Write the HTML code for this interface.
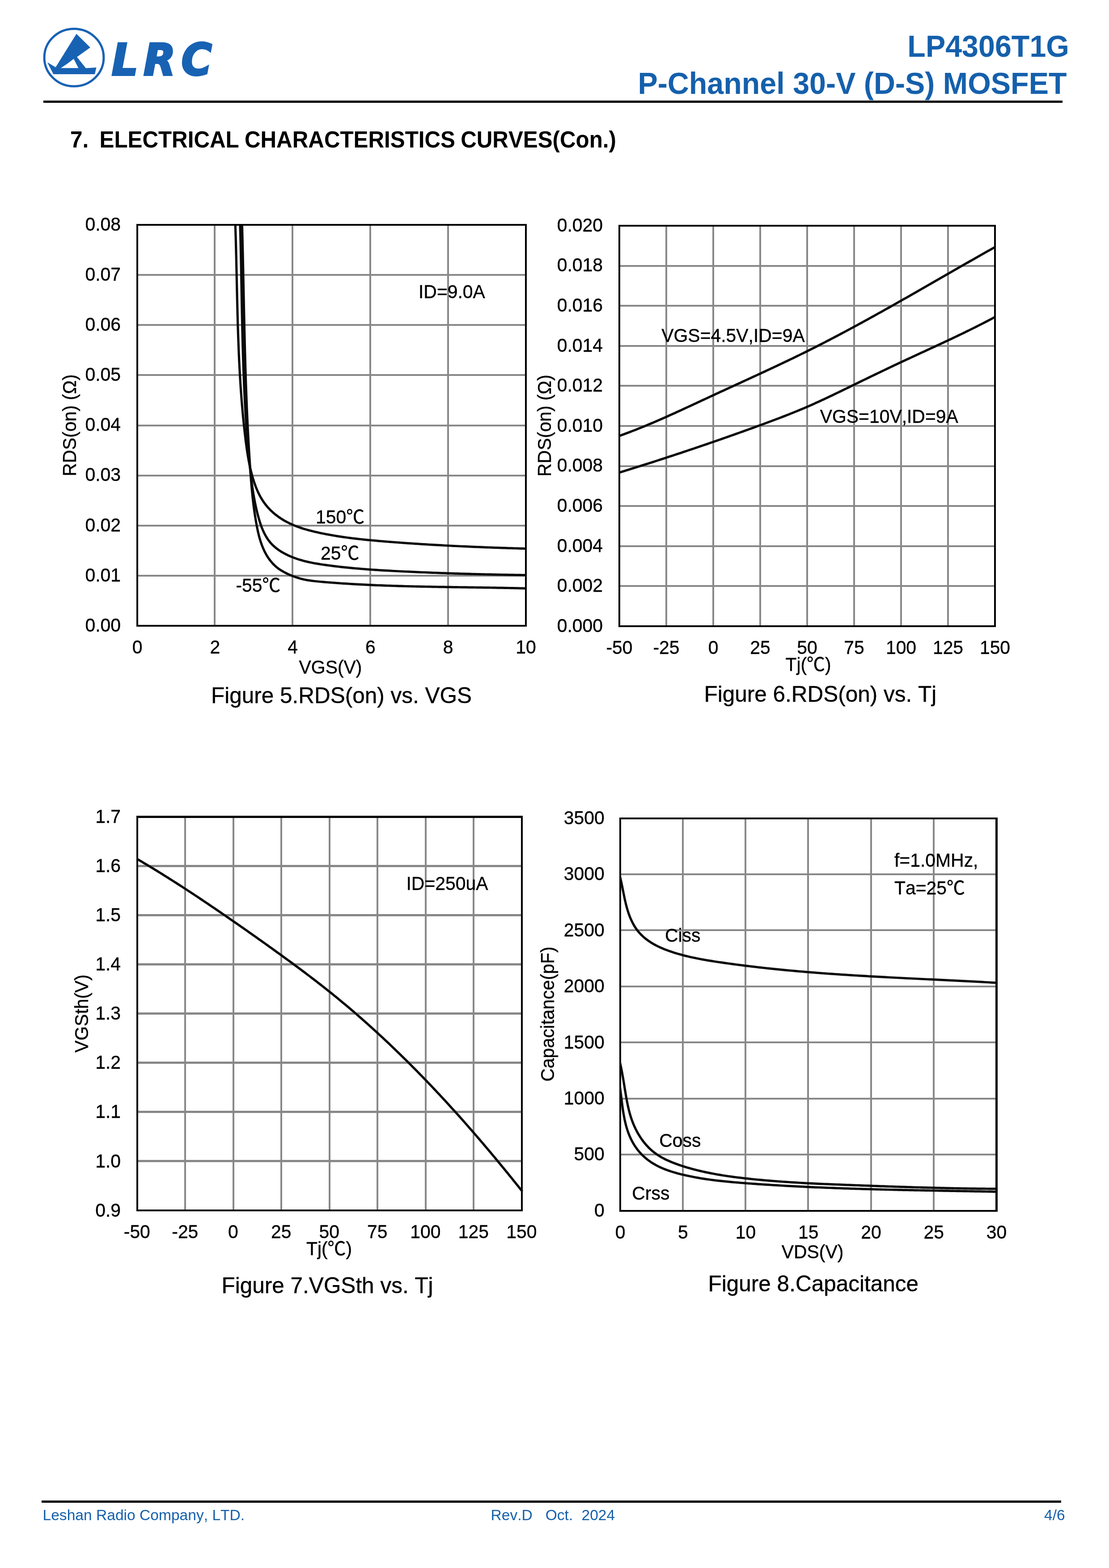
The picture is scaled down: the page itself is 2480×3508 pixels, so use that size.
<!DOCTYPE html>
<html lang="en">
<head>
<meta charset="utf-8">
<title>LP4306T1G P-Channel 30-V (D-S) MOSFET - Electrical Characteristics Curves</title>
<style>
html,body{margin:0;padding:0;background:#fff;}
body{width:2480px;height:3508px;position:relative;overflow:hidden;font-family:"Liberation Sans", "Noto Sans CJK SC", sans-serif;color:#000;font-kerning:none;font-variant-ligatures:none;}
.page{position:absolute;left:0;top:0;width:2480px;height:3508px;background:#fff;}
svg{position:absolute;left:0;top:0;}
svg text{font-family:"Liberation Sans", "Noto Sans CJK SC", sans-serif;fill:#000;font-kerning:none;}
.t10{font-size:40.9px;stroke:#000;stroke-width:0.4px;}
.t12{font-size:49.5px;stroke:#000;stroke-width:0.4px;}
.grid{fill:none;stroke:#888;stroke-width:4;}
.frame{fill:none;stroke:#000;stroke-width:4;}
.curve{fill:none;stroke:#0a0a0a;stroke-width:5.2;stroke-linejoin:round;stroke-linecap:butt;}
.rule{position:absolute;background:#000;}
header .title{transform:scaleY(1.025);transform-origin:0 84.65%;position:absolute;white-space:nowrap;font-weight:bold;font-size:66.4px;line-height:66.4px;color:#1560ac;text-align:right;}
h2{transform:scaleY(1.035);transform-origin:0 84.65%;position:absolute;margin:0;font-size:49.3px;line-height:49.3px;font-weight:bold;white-space:pre;}
footer span{transform:scaleY(1.01);transform-origin:0 84.65%;position:absolute;font-size:33.6px;line-height:33.6px;color:#1560ac;white-space:pre;}
</style>
</head>
<body>
<div class="page">
<header>
<svg width="520" height="230" viewBox="0 0 520 230" aria-label="LRC logo">
<ellipse cx="165.5" cy="128.75" rx="66.4" ry="64.3" fill="none" stroke="#1862b4" stroke-width="5"/>
<path fill="#1862b4" fill-rule="evenodd" d="M170.9,75.7 L201.8,106.3 L172.1,127.6 L192,152.6 L215.5,151.1 L212,165.9 L119.4,165.9 L105.7,139.3 L124.4,150.4 Z M136,152.3 L175.4,152.3 L164.8,131.8 Q150,143.5 136,152.3 Z"/>
<text transform="translate(0,168.4) scale(1,1.05)" x="249.8 321 405.5" y="0" style="font-family:'DejaVu Sans',sans-serif;font-weight:bold;font-style:oblique;font-size:93px;fill:#1862b4;stroke:#1862b4;stroke-width:4;stroke-linejoin:miter">LRC</text>
</svg>
<div class="title" style="right:89px;top:70.79px">LP4306T1G</div>
<div class="title" style="right:94.5px;top:153.69px">P-Channel 30-V (D-S) MOSFET</div>
<div class="rule" style="left:97px;top:225px;width:2279px;height:5px"></div>
</header>
<main>
<h2 style="left:157px;top:287.67px;word-spacing:-1.5px">7.  ELECTRICAL CHARACTERISTICS CURVES(Con.)</h2>
<svg width="2480" height="3508" viewBox="0 0 2480 3508">
<g class="chart" id="fig5">
<path class="grid" d="M480,503 V1400 M654,503 V1400 M828,503 V1400 M1002,503 V1400"/>
<path class="grid" style="stroke-width:4" d="M307,1288 H1176 M307,1176 H1176 M307,1064 H1176 M307,952 H1176 M307,839 H1176 M307,727 H1176 M307,615 H1176"/>
<clipPath id="clip-fig5"><rect x="305" y="501" width="874" height="901"/></clipPath>
<g clip-path="url(#clip-fig5)">
<path class="curve" d="M526,495.01 L526.17,500.01 526.34,505.01 526.5,510.01 526.66,515.01 526.81,520.01 526.96,525.02 527.11,530.02 527.25,535.03 527.39,540.03 527.52,545.04 527.65,550.04 527.78,555.05 527.91,560.06 528.03,565.06 528.15,570.07 528.27,575.08 528.38,580.09 528.5,585.1 528.61,590.11 528.72,595.12 528.84,600.13 528.95,605.14 529.05,610.15 529.16,615.16 529.27,620.17 529.38,625.19 529.49,630.2 529.59,635.21 529.7,640.22 529.81,645.23 529.92,650.25 530.03,655.26 530.14,660.27 530.26,665.28 530.37,670.3 530.49,675.31 530.61,680.32 530.73,685.33 530.85,690.35 530.97,695.36 531.1,700.37 531.23,705.38 531.37,710.39 531.51,715.41 531.65,720.42 531.79,725.43 531.94,730.44 532.09,735.45 532.25,740.46 532.41,745.47 532.58,750.48 532.75,755.49 532.93,760.5 533.11,765.51 533.3,770.52 533.49,775.53 533.69,780.53 533.9,785.54 534.11,790.55 534.33,795.55 534.55,800.56 534.78,805.56 535.02,810.57 535.27,815.57 535.52,820.57 535.78,825.58 536.05,830.58 536.33,835.58 536.61,840.58 536.91,845.58 537.21,850.58 537.52,855.58 537.84,860.57 538.17,865.57 538.51,870.57 538.86,875.56 539.22,880.56 539.59,885.55 539.97,890.54 540.36,895.53 540.76,900.52 541.17,905.51 541.59,910.5 542.02,915.49 542.47,920.47 542.92,925.46 543.39,930.44 543.87,935.43 544.37,940.41 544.87,945.39 545.39,950.37 545.92,955.35 546.46,960.32 547.02,965.3 547.59,970.27 548.17,975.25 548.77,980.22 549.38,985.19 550.01,990.16 550.66,995.13 551.33,1000.09 552.02,1005.05 552.75,1010.01 553.51,1014.96 554.31,1019.91 555.16,1024.85 556.04,1029.78 556.98,1034.71 557.97,1039.63 559.02,1044.54 560.13,1049.45 561.3,1054.34 562.54,1059.23 563.85,1064.1 565.24,1068.96 566.71,1073.81 568.26,1078.62 569.91,1083.4 571.66,1088.14 573.51,1092.83 575.48,1097.46 577.56,1102.02 579.77,1106.51 582.1,1110.92 584.57,1115.24 587.18,1119.46 589.94,1123.57 592.84,1127.58 595.91,1131.46 599.13,1135.21 602.49,1138.85 606,1142.36 609.63,1145.75 613.38,1149.01 617.25,1152.15 621.23,1155.16 625.3,1158.04 629.48,1160.8 633.73,1163.43 638.07,1165.93 642.47,1168.3 646.94,1170.54 651.47,1172.66 656.06,1174.67 660.7,1176.57 665.39,1178.36 670.12,1180.06 674.89,1181.66 679.69,1183.18 684.53,1184.62 689.39,1185.99 694.27,1187.29 699.18,1188.52 704.09,1189.7 709.02,1190.84 713.95,1191.93 718.88,1192.97 723.82,1193.99 728.76,1194.96 733.7,1195.9 738.64,1196.81 743.58,1197.68 748.52,1198.52 753.47,1199.33 758.42,1200.11 763.37,1200.86 768.32,1201.59 773.28,1202.29 778.23,1202.96 783.19,1203.61 788.15,1204.23 793.11,1204.83 798.07,1205.41 803.04,1205.98 808,1206.52 812.97,1207.05 817.94,1207.55 822.91,1208.05 827.88,1208.53 832.86,1208.99 837.83,1209.45 842.81,1209.89 847.79,1210.32 852.77,1210.75 857.75,1211.16 862.73,1211.57 867.72,1211.98 872.71,1212.37 877.69,1212.76 882.68,1213.15 887.67,1213.53 892.67,1213.9 897.66,1214.27 902.65,1214.63 907.65,1214.99 912.65,1215.34 917.64,1215.69 922.64,1216.03 927.64,1216.36 932.64,1216.69 937.65,1217.01 942.65,1217.33 947.65,1217.65 952.66,1217.95 957.66,1218.26 962.67,1218.56 967.67,1218.85 972.68,1219.14 977.69,1219.42 982.7,1219.7 987.71,1219.97 992.72,1220.24 997.73,1220.51 1002.74,1220.77 1007.75,1221.02 1012.76,1221.28 1017.77,1221.52 1022.78,1221.76 1027.79,1222 1032.8,1222.24 1037.81,1222.47 1042.82,1222.69 1047.83,1222.91 1052.85,1223.13 1057.86,1223.35 1062.87,1223.56 1067.88,1223.76 1072.89,1223.97 1077.9,1224.16 1082.91,1224.36 1087.92,1224.55 1092.93,1224.74 1097.94,1224.92 1102.95,1225.11 1107.95,1225.28 1112.96,1225.46 1117.97,1225.63 1122.97,1225.8 1127.98,1225.96 1132.98,1226.13 1137.99,1226.28 1142.99,1226.44 1147.99,1226.59 1152.99,1226.74 1157.99,1226.89 1162.99,1227.04 1167.99,1227.18 1172.99,1227.32 1177.98,1227.46"/>
<path class="curve" d="M536.71,495.01 L536.86,500.02 537.01,505.03 537.15,510.04 537.29,515.04 537.43,520.05 537.56,525.06 537.7,530.07 537.82,535.08 537.95,540.1 538.07,545.11 538.19,550.12 538.3,555.13 538.42,560.15 538.53,565.16 538.64,570.18 538.75,575.19 538.85,580.21 538.95,585.22 539.06,590.24 539.16,595.25 539.25,600.27 539.35,605.29 539.45,610.31 539.54,615.32 539.64,620.34 539.73,625.36 539.82,630.38 539.92,635.4 540.01,640.41 540.1,645.43 540.19,650.45 540.28,655.47 540.38,660.49 540.47,665.51 540.56,670.53 540.66,675.55 540.75,680.57 540.85,685.59 540.94,690.61 541.04,695.63 541.14,700.65 541.24,705.67 541.34,710.69 541.45,715.71 541.55,720.73 541.66,725.75 541.77,730.77 541.88,735.79 542,740.81 542.12,745.83 542.24,750.85 542.36,755.87 542.49,760.89 542.61,765.91 542.75,770.93 542.88,775.95 543.02,780.97 543.16,785.98 543.31,791 543.46,796.02 543.62,801.04 543.78,806.05 543.94,811.07 544.11,816.09 544.28,821.1 544.46,826.12 544.64,831.14 544.82,836.15 545.02,841.17 545.21,846.18 545.42,851.19 545.62,856.21 545.84,861.22 546.06,866.23 546.28,871.24 546.52,876.26 546.75,881.27 547,886.28 547.25,891.29 547.51,896.3 547.77,901.31 548.05,906.31 548.32,911.32 548.61,916.33 548.9,921.33 549.2,926.34 549.51,931.34 549.83,936.35 550.15,941.35 550.49,946.36 550.83,951.36 551.17,956.36 551.53,961.36 551.9,966.36 552.27,971.36 552.65,976.36 553.05,981.35 553.45,986.35 553.86,991.34 554.28,996.34 554.71,1001.33 555.15,1006.33 555.6,1011.32 556.06,1016.31 556.53,1021.3 557,1026.29 557.49,1031.28 558,1036.26 558.51,1041.25 559.03,1046.23 559.56,1051.22 560.11,1056.2 560.67,1061.18 561.25,1066.16 561.85,1071.14 562.47,1076.11 563.12,1081.09 563.8,1086.06 564.5,1091.02 565.24,1095.99 566.01,1100.95 566.82,1105.91 567.67,1110.86 568.56,1115.81 569.49,1120.76 570.47,1125.7 571.49,1130.63 572.57,1135.56 573.7,1140.49 574.88,1145.41 576.12,1150.33 577.42,1155.24 578.79,1160.14 580.23,1165.02 581.76,1169.86 583.38,1174.66 585.12,1179.4 586.98,1184.07 588.97,1188.66 591.11,1193.14 593.41,1197.52 595.88,1201.77 598.53,1205.89 601.37,1209.86 604.41,1213.67 607.67,1217.31 611.14,1220.77 614.81,1224.06 618.66,1227.18 622.67,1230.13 626.83,1232.93 631.12,1235.57 635.53,1238.06 640.03,1240.4 644.62,1242.61 649.27,1244.67 653.97,1246.6 658.71,1248.4 663.48,1250.08 668.27,1251.65 673.09,1253.1 677.94,1254.46 682.81,1255.72 687.7,1256.89 692.61,1257.98 697.54,1259 702.48,1259.95 707.43,1260.84 712.39,1261.67 717.36,1262.46 722.34,1263.21 727.32,1263.93 732.3,1264.62 737.28,1265.29 742.26,1265.94 747.25,1266.56 752.23,1267.17 757.22,1267.75 762.2,1268.32 767.19,1268.86 772.18,1269.39 777.16,1269.9 782.15,1270.4 787.14,1270.88 792.13,1271.34 797.12,1271.78 802.11,1272.21 807.1,1272.63 812.09,1273.03 817.09,1273.42 822.08,1273.8 827.08,1274.16 832.07,1274.51 837.07,1274.85 842.07,1275.18 847.06,1275.5 852.06,1275.81 857.06,1276.11 862.06,1276.4 867.06,1276.69 872.07,1276.97 877.07,1277.23 882.07,1277.5 887.08,1277.76 892.08,1278.01 897.09,1278.25 902.1,1278.5 907.11,1278.74 912.12,1278.97 917.13,1279.2 922.14,1279.43 927.15,1279.65 932.16,1279.87 937.18,1280.09 942.19,1280.3 947.21,1280.51 952.22,1280.71 957.24,1280.91 962.25,1281.11 967.27,1281.31 972.29,1281.5 977.31,1281.68 982.33,1281.87 987.34,1282.05 992.36,1282.22 997.38,1282.4 1002.4,1282.57 1007.42,1282.73 1012.44,1282.9 1017.46,1283.06 1022.48,1283.21 1027.5,1283.37 1032.52,1283.52 1037.54,1283.67 1042.56,1283.81 1047.59,1283.95 1052.61,1284.09 1057.63,1284.23 1062.65,1284.36 1067.67,1284.49 1072.69,1284.62 1077.71,1284.74 1082.72,1284.86 1087.74,1284.98 1092.76,1285.1 1097.78,1285.21 1102.8,1285.32 1107.81,1285.43 1112.83,1285.54 1117.85,1285.64 1122.86,1285.74 1127.88,1285.84 1132.89,1285.93 1137.91,1286.03 1142.92,1286.12 1147.93,1286.21 1152.94,1286.29 1157.95,1286.38 1162.96,1286.46 1167.97,1286.54 1172.98,1286.62 1177.99,1286.69"/>
<path class="curve" d="M541.13,495.03 L541.27,500.03 541.41,505.03 541.54,510.03 541.67,515.03 541.8,520.03 541.93,525.04 542.05,530.04 542.18,535.05 542.3,540.05 542.42,545.06 542.54,550.06 542.65,555.07 542.77,560.08 542.89,565.09 543,570.1 543.11,575.11 543.22,580.12 543.33,585.13 543.44,590.14 543.55,595.15 543.65,600.16 543.76,605.17 543.87,610.19 543.97,615.2 544.07,620.21 544.18,625.23 544.28,630.24 544.39,635.26 544.49,640.27 544.59,645.29 544.7,650.31 544.8,655.32 544.9,660.34 545.01,665.35 545.11,670.37 545.21,675.39 545.32,680.41 545.42,685.42 545.53,690.44 545.63,695.46 545.74,700.48 545.85,705.5 545.96,710.52 546.07,715.53 546.18,720.55 546.29,725.57 546.4,730.59 546.52,735.61 546.63,740.63 546.75,745.65 546.87,750.67 546.99,755.69 547.11,760.71 547.23,765.72 547.36,770.74 547.49,775.76 547.62,780.78 547.75,785.8 547.88,790.82 548.02,795.84 548.15,800.85 548.29,805.87 548.44,810.89 548.58,815.91 548.73,820.92 548.88,825.94 549.03,830.96 549.19,835.97 549.35,840.99 549.51,846.01 549.68,851.02 549.84,856.04 550.02,861.05 550.19,866.07 550.37,871.08 550.55,876.1 550.73,881.11 550.92,886.12 551.12,891.14 551.31,896.15 551.51,901.16 551.72,906.17 551.92,911.18 552.14,916.19 552.35,921.2 552.57,926.21 552.8,931.22 553.03,936.23 553.26,941.23 553.5,946.24 553.74,951.25 553.99,956.25 554.24,961.26 554.5,966.26 554.76,971.26 555.02,976.27 555.3,981.27 555.57,986.27 555.86,991.27 556.14,996.27 556.44,1001.27 556.74,1006.27 557.04,1011.26 557.35,1016.26 557.66,1021.26 557.99,1026.25 558.31,1031.25 558.65,1036.24 558.99,1041.23 559.33,1046.22 559.68,1051.21 560.04,1056.2 560.41,1061.19 560.78,1066.18 561.17,1071.16 561.56,1076.15 561.97,1081.14 562.4,1086.12 562.84,1091.11 563.3,1096.09 563.78,1101.07 564.27,1106.06 564.79,1111.04 565.33,1116.02 565.9,1121.01 566.49,1125.99 567.11,1130.97 567.75,1135.96 568.43,1140.94 569.13,1145.93 569.87,1150.91 570.64,1155.9 571.44,1160.88 572.29,1165.87 573.16,1170.86 574.08,1175.84 575.05,1180.82 576.08,1185.79 577.17,1190.73 578.34,1195.66 579.59,1200.54 580.94,1205.39 582.39,1210.2 583.96,1214.96 585.64,1219.65 587.46,1224.29 589.41,1228.85 591.51,1233.34 593.77,1237.74 596.19,1242.06 598.79,1246.28 601.57,1250.39 604.54,1254.38 607.69,1258.22 611.03,1261.9 614.57,1265.4 618.31,1268.69 622.24,1271.76 626.35,1274.62 630.61,1277.28 635,1279.77 639.5,1282.1 644.08,1284.29 648.71,1286.37 653.4,1288.31 658.13,1290.12 662.91,1291.79 667.72,1293.32 672.56,1294.68 677.43,1295.89 682.33,1296.94 687.24,1297.87 692.18,1298.67 697.13,1299.37 702.09,1299.98 707.07,1300.53 712.05,1301.02 717.04,1301.47 722.03,1301.9 727.02,1302.32 732.01,1302.73 737,1303.13 742,1303.52 746.99,1303.9 751.99,1304.26 756.98,1304.62 761.98,1304.97 766.98,1305.3 771.98,1305.63 776.98,1305.95 781.98,1306.26 786.98,1306.56 791.98,1306.85 796.99,1307.13 801.99,1307.41 807,1307.67 812,1307.93 817.01,1308.18 822.01,1308.42 827.02,1308.65 832.03,1308.88 837.04,1309.1 842.05,1309.31 847.06,1309.52 852.07,1309.71 857.08,1309.91 862.09,1310.09 867.1,1310.27 872.11,1310.44 877.13,1310.61 882.14,1310.77 887.15,1310.93 892.17,1311.08 897.18,1311.22 902.19,1311.36 907.21,1311.5 912.22,1311.63 917.24,1311.75 922.26,1311.88 927.27,1311.99 932.29,1312.11 937.3,1312.22 942.32,1312.32 947.34,1312.43 952.35,1312.52 957.37,1312.62 962.39,1312.71 967.41,1312.81 972.42,1312.89 977.44,1312.98 982.46,1313.06 987.48,1313.14 992.49,1313.22 997.51,1313.3 1002.53,1313.38 1007.55,1313.45 1012.56,1313.53 1017.58,1313.6 1022.6,1313.67 1027.61,1313.74 1032.63,1313.82 1037.65,1313.89 1042.66,1313.96 1047.68,1314.03 1052.7,1314.1 1057.71,1314.17 1062.73,1314.24 1067.74,1314.31 1072.76,1314.39 1077.77,1314.46 1082.79,1314.54 1087.8,1314.62 1092.81,1314.69 1097.83,1314.77 1102.84,1314.86 1107.85,1314.94 1112.86,1315.03 1117.88,1315.12 1122.89,1315.21 1127.9,1315.31 1132.91,1315.41 1137.92,1315.51 1142.93,1315.61 1147.93,1315.72 1152.94,1315.83 1157.95,1315.95 1162.95,1316.07 1167.96,1316.19 1172.97,1316.32 1177.97,1316.46"/>
</g>
<path class="frame" style="stroke-width:4" d="M307,501 V1402"/>
<path class="frame" style="stroke-width:4" d="M1176,501 V1402"/>
<path class="frame" style="stroke-width:4" d="M305,503 H1178"/>
<path class="frame" style="stroke-width:4" d="M305,1400 H1178"/>
<text class="t10" text-anchor="end" transform="translate(270,1412.8) scale(1,1.03)">0.00</text>
<text class="t10" text-anchor="end" transform="translate(270,1300.67) scale(1,1.03)">0.01</text>
<text class="t10" text-anchor="end" transform="translate(270,1188.55) scale(1,1.03)">0.02</text>
<text class="t10" text-anchor="end" transform="translate(270,1076.42) scale(1,1.03)">0.03</text>
<text class="t10" text-anchor="end" transform="translate(270,964.3) scale(1,1.03)">0.04</text>
<text class="t10" text-anchor="end" transform="translate(270,852.17) scale(1,1.03)">0.05</text>
<text class="t10" text-anchor="end" transform="translate(270,740.05) scale(1,1.03)">0.06</text>
<text class="t10" text-anchor="end" transform="translate(270,627.92) scale(1,1.03)">0.07</text>
<text class="t10" text-anchor="end" transform="translate(270,515.8) scale(1,1.03)">0.08</text>
<text class="t10" text-anchor="middle" transform="translate(307,1461.8) scale(1,1.03)">0</text>
<text class="t10" text-anchor="middle" transform="translate(480.8,1461.8) scale(1,1.03)">2</text>
<text class="t10" text-anchor="middle" transform="translate(654.6,1461.8) scale(1,1.03)">4</text>
<text class="t10" text-anchor="middle" transform="translate(828.4,1461.8) scale(1,1.03)">6</text>
<text class="t10" text-anchor="middle" transform="translate(1002.2,1461.8) scale(1,1.03)">8</text>
<text class="t10" text-anchor="middle" transform="translate(1176,1461.8) scale(1,1.03)">10</text>
<text class="t10" transform="translate(936,666.8) scale(1,1.03)">ID=9.0A</text>
<text class="t10" transform="translate(706,1171) scale(1,1.03)">150℃</text>
<text class="t10" transform="translate(717,1251.6) scale(1,1.03)">25℃</text>
<text class="t10" transform="translate(527.5,1323.8) scale(1,1.03)">-55℃</text>
<text class="t10" text-anchor="middle" transform="translate(739,1506.8) scale(1,1.03)">VGS(V)</text>
<text class="t10" text-anchor="middle" transform="translate(169.9,951.5) rotate(-90) scale(1,1.03)">RDS(on) (Ω)</text>
<text class="t12" text-anchor="middle" transform="translate(763.5,1573.2) scale(1,1.01)">Figure 5.RDS(on) vs. VGS</text>
</g>
<g class="chart" id="fig6">
<path class="grid" d="M1490,505 V1401 M1595,505 V1401 M1700,505 V1401 M1805,505 V1401 M1910,505 V1401 M2015,505 V1401 M2120,505 V1401"/>
<path class="grid" style="stroke-width:4" d="M1385,1311 H2225 M1385,1222 H2225 M1385,1132 H2225 M1385,1043 H2225 M1385,953 H2225 M1385,863 H2225 M1385,774 H2225 M1385,684 H2225 M1385,595 H2225"/>
<clipPath id="clip-fig6"><rect x="1383" y="503" width="845" height="900"/></clipPath>
<g clip-path="url(#clip-fig6)">
<path class="curve" d="M1385.06,975.13 L1389.79,973.45 1394.51,971.74 1399.23,970.01 1403.93,968.25 1408.62,966.48 1413.3,964.69 1417.98,962.88 1422.64,961.05 1427.3,959.2 1431.95,957.33 1436.6,955.45 1441.23,953.55 1445.86,951.63 1450.48,949.7 1455.1,947.76 1459.71,945.8 1464.31,943.83 1468.91,941.84 1473.51,939.85 1478.1,937.84 1482.68,935.82 1487.26,933.79 1491.84,931.76 1496.41,929.71 1500.98,927.66 1505.54,925.6 1510.11,923.53 1514.66,921.46 1519.22,919.37 1523.78,917.29 1528.33,915.2 1532.88,913.1 1537.43,911 1541.98,908.89 1546.52,906.79 1551.07,904.68 1555.61,902.56 1560.16,900.45 1564.7,898.34 1569.24,896.22 1573.79,894.1 1578.33,891.99 1582.87,889.87 1587.42,887.76 1591.97,885.65 1596.51,883.54 1601.06,881.43 1605.61,879.33 1610.16,877.23 1614.72,875.13 1619.27,873.03 1623.82,870.93 1628.38,868.84 1632.93,866.74 1637.49,864.65 1642.05,862.55 1646.6,860.46 1651.16,858.37 1655.72,856.27 1660.27,854.18 1664.83,852.09 1669.38,849.99 1673.94,847.89 1678.49,845.8 1683.05,843.7 1687.6,841.6 1692.15,839.5 1696.7,837.39 1701.25,835.28 1705.8,833.17 1710.35,831.06 1714.89,828.94 1719.43,826.82 1723.97,824.7 1728.51,822.57 1733.05,820.44 1737.59,818.31 1742.12,816.17 1746.65,814.02 1751.18,811.87 1755.7,809.72 1760.23,807.56 1764.75,805.39 1769.26,803.22 1773.78,801.05 1778.29,798.86 1782.79,796.67 1787.3,794.47 1791.8,792.27 1796.29,790.06 1800.78,787.84 1805.27,785.61 1809.76,783.38 1814.24,781.13 1818.71,778.88 1823.18,776.63 1827.65,774.36 1832.12,772.09 1836.58,769.81 1841.04,767.52 1845.49,765.23 1849.94,762.93 1854.39,760.62 1858.83,758.31 1863.27,755.99 1867.71,753.66 1872.14,751.33 1876.57,748.99 1881,746.64 1885.42,744.29 1889.84,741.94 1894.26,739.57 1898.68,737.21 1903.09,734.83 1907.5,732.45 1911.91,730.07 1916.31,727.68 1920.71,725.29 1925.11,722.89 1929.51,720.48 1933.9,718.07 1938.29,715.66 1942.68,713.24 1947.07,710.82 1951.46,708.4 1955.84,705.97 1960.22,703.53 1964.6,701.1 1968.98,698.65 1973.35,696.21 1977.73,693.76 1982.1,691.31 1986.47,688.86 1990.84,686.4 1995.2,683.94 1999.57,681.47 2003.93,679.01 2008.29,676.54 2012.66,674.06 2017.02,671.59 2021.37,669.11 2025.73,666.64 2030.09,664.15 2034.44,661.67 2038.8,659.19 2043.15,656.7 2047.5,654.21 2051.85,651.72 2056.21,649.23 2060.56,646.74 2064.9,644.25 2069.25,641.75 2073.6,639.26 2077.95,636.76 2082.3,634.27 2086.64,631.77 2090.99,629.27 2095.34,626.78 2099.68,624.28 2104.03,621.78 2108.38,619.28 2112.72,616.78 2117.07,614.29 2121.42,611.79 2125.76,609.29 2130.11,606.8 2134.46,604.3 2138.81,601.81 2143.15,599.31 2147.5,596.82 2151.85,594.33 2156.2,591.84 2160.55,589.35 2164.9,586.87 2169.26,584.38 2173.61,581.9 2177.96,579.42 2182.32,576.94 2186.67,574.46 2191.03,571.99 2195.39,569.51 2199.75,567.04 2204.11,564.58 2208.47,562.11 2212.83,559.65 2217.19,557.19 2221.56,554.73 2225.93,552.28"/>
<path class="curve" d="M1385.04,1057.29 L1389.82,1055.81 1394.6,1054.33 1399.38,1052.84 1404.16,1051.35 1408.94,1049.85 1413.72,1048.35 1418.5,1046.85 1423.28,1045.34 1428.05,1043.83 1432.83,1042.32 1437.6,1040.81 1442.38,1039.29 1447.15,1037.76 1451.92,1036.24 1456.69,1034.71 1461.46,1033.17 1466.23,1031.64 1471,1030.1 1475.76,1028.55 1480.53,1027 1485.29,1025.45 1490.06,1023.9 1494.82,1022.34 1499.58,1020.78 1504.34,1019.21 1509.1,1017.64 1513.86,1016.07 1518.62,1014.49 1523.37,1012.91 1528.13,1011.33 1532.88,1009.74 1537.63,1008.15 1542.38,1006.56 1547.13,1004.96 1551.88,1003.36 1556.63,1001.75 1561.38,1000.14 1566.12,998.53 1570.87,996.91 1575.61,995.29 1580.35,993.67 1585.09,992.04 1589.83,990.41 1594.57,988.78 1599.31,987.14 1604.04,985.49 1608.78,983.85 1613.51,982.2 1618.24,980.54 1622.97,978.89 1627.7,977.22 1632.43,975.56 1637.15,973.89 1641.88,972.22 1646.6,970.54 1651.32,968.86 1656.04,967.17 1660.76,965.49 1665.48,963.79 1670.19,962.1 1674.91,960.4 1679.62,958.69 1684.33,956.98 1689.04,955.27 1693.75,953.56 1698.46,951.84 1703.17,950.11 1707.87,948.39 1712.57,946.65 1717.27,944.91 1721.97,943.17 1726.66,941.42 1731.35,939.65 1736.04,937.89 1740.72,936.11 1745.4,934.32 1750.08,932.52 1754.74,930.71 1759.41,928.88 1764.07,927.05 1768.72,925.2 1773.37,923.34 1778.01,921.46 1782.64,919.56 1787.27,917.65 1791.89,915.73 1796.5,913.78 1801.11,911.82 1805.7,909.84 1810.29,907.83 1814.87,905.81 1819.45,903.78 1824.01,901.72 1828.57,899.65 1833.12,897.57 1837.67,895.47 1842.21,893.36 1846.74,891.23 1851.28,889.1 1855.8,886.95 1860.32,884.79 1864.84,882.63 1869.36,880.46 1873.87,878.28 1878.38,876.1 1882.89,873.91 1887.4,871.71 1891.9,869.52 1896.41,867.32 1900.91,865.12 1905.41,862.92 1909.92,860.72 1914.42,858.52 1918.93,856.32 1923.43,854.13 1927.94,851.94 1932.45,849.74 1936.96,847.56 1941.47,845.37 1945.98,843.18 1950.49,841 1955.01,838.82 1959.52,836.65 1964.04,834.48 1968.56,832.31 1973.07,830.14 1977.6,827.98 1982.12,825.82 1986.64,823.66 1991.17,821.51 1995.7,819.36 2000.23,817.22 2004.76,815.08 2009.29,812.95 2013.83,810.82 2018.37,808.69 2022.91,806.57 2027.45,804.46 2031.99,802.35 2036.54,800.24 2041.09,798.13 2045.63,796.03 2050.18,793.92 2054.73,791.82 2059.28,789.72 2063.83,787.63 2068.38,785.53 2072.93,783.43 2077.48,781.33 2082.02,779.23 2086.57,777.12 2091.12,775.02 2095.66,772.91 2100.21,770.8 2104.75,768.69 2109.29,766.57 2113.83,764.45 2118.36,762.32 2122.89,760.19 2127.42,758.05 2131.95,755.91 2136.48,753.76 2141,751.6 2145.52,749.43 2150.03,747.26 2154.54,745.08 2159.05,742.89 2163.55,740.69 2168.04,738.49 2172.54,736.27 2177.02,734.04 2181.51,731.8 2185.98,729.55 2190.46,727.29 2194.92,725.01 2199.38,722.73 2203.84,720.43 2208.28,718.11 2212.72,715.78 2217.16,713.44 2221.58,711.08 2226,708.71"/>
</g>
<path class="frame" style="stroke-width:4" d="M1385,503 V1403"/>
<path class="frame" style="stroke-width:4" d="M2225,503 V1403"/>
<path class="frame" style="stroke-width:4" d="M1383,505 H2227"/>
<path class="frame" style="stroke-width:4" d="M1383,1401 H2227"/>
<text class="t10" text-anchor="end" transform="translate(1348,1413.8) scale(1,1.03)">0.000</text>
<text class="t10" text-anchor="end" transform="translate(1348,1324.2) scale(1,1.03)">0.002</text>
<text class="t10" text-anchor="end" transform="translate(1348,1234.6) scale(1,1.03)">0.004</text>
<text class="t10" text-anchor="end" transform="translate(1348,1145) scale(1,1.03)">0.006</text>
<text class="t10" text-anchor="end" transform="translate(1348,1055.4) scale(1,1.03)">0.008</text>
<text class="t10" text-anchor="end" transform="translate(1348,965.8) scale(1,1.03)">0.010</text>
<text class="t10" text-anchor="end" transform="translate(1348,876.2) scale(1,1.03)">0.012</text>
<text class="t10" text-anchor="end" transform="translate(1348,786.6) scale(1,1.03)">0.014</text>
<text class="t10" text-anchor="end" transform="translate(1348,697) scale(1,1.03)">0.016</text>
<text class="t10" text-anchor="end" transform="translate(1348,607.4) scale(1,1.03)">0.018</text>
<text class="t10" text-anchor="end" transform="translate(1348,517.8) scale(1,1.03)">0.020</text>
<text class="t10" text-anchor="middle" transform="translate(1385,1462.8) scale(1,1.03)">-50</text>
<text class="t10" text-anchor="middle" transform="translate(1490,1462.8) scale(1,1.03)">-25</text>
<text class="t10" text-anchor="middle" transform="translate(1595,1462.8) scale(1,1.03)">0</text>
<text class="t10" text-anchor="middle" transform="translate(1700,1462.8) scale(1,1.03)">25</text>
<text class="t10" text-anchor="middle" transform="translate(1805,1462.8) scale(1,1.03)">50</text>
<text class="t10" text-anchor="middle" transform="translate(1910,1462.8) scale(1,1.03)">75</text>
<text class="t10" text-anchor="middle" transform="translate(2015,1462.8) scale(1,1.03)">100</text>
<text class="t10" text-anchor="middle" transform="translate(2120,1462.8) scale(1,1.03)">125</text>
<text class="t10" text-anchor="middle" transform="translate(2225,1462.8) scale(1,1.03)">150</text>
<text class="t10" transform="translate(1479.3,765.3) scale(1,1.03)">VGS=4.5V,ID=9A</text>
<text class="t10" transform="translate(1833.7,946) scale(1,1.03)">VGS=10V,ID=9A</text>
<text class="t10" text-anchor="middle" transform="translate(1807.5,1501) scale(1,1.03)">Tj(℃)</text>
<text class="t10" text-anchor="middle" transform="translate(1231.9,952.2) rotate(-90) scale(1,1.03)">RDS(on) (Ω)</text>
<text class="t12" text-anchor="middle" transform="translate(1834.3,1569.8) scale(1,1.01)">Figure 6.RDS(on) vs. Tj</text>
</g>
<g class="chart" id="fig7">
<path class="grid" d="M414,1827.5 V2708 M522,1827.5 V2708 M629,1827.5 V2708 M737,1827.5 V2708 M844,1827.5 V2708 M952,1827.5 V2708 M1059,1827.5 V2708"/>
<path class="grid" style="stroke-width:5" d="M307,2597.5 H1167 M307,2487.5 H1167 M307,2377.5 H1167 M307,2267.5 H1167 M307,2157.5 H1167 M307,2047.5 H1167 M307,1937.5 H1167"/>
<clipPath id="clip-fig7"><rect x="305" y="1825" width="865" height="885.5"/></clipPath>
<g clip-path="url(#clip-fig7)">
<path class="curve" d="M307.02,1921.97 L311.35,1924.52 315.68,1927.08 320,1929.64 324.32,1932.21 328.63,1934.79 332.93,1937.39 337.23,1939.99 341.52,1942.59 345.81,1945.21 350.09,1947.84 354.37,1950.47 358.64,1953.11 362.9,1955.76 367.16,1958.42 371.41,1961.08 375.66,1963.76 379.91,1966.44 384.15,1969.12 388.38,1971.82 392.61,1974.52 396.84,1977.23 401.06,1979.95 405.27,1982.67 409.49,1985.4 413.69,1988.13 417.9,1990.88 422.09,1993.62 426.29,1996.38 430.48,1999.14 434.67,2001.91 438.85,2004.68 443.03,2007.45 447.21,2010.24 451.38,2013.03 455.55,2015.82 459.72,2018.62 463.88,2021.42 468.04,2024.23 472.2,2027.04 476.35,2029.86 480.5,2032.68 484.65,2035.51 488.79,2038.34 492.94,2041.18 497.08,2044.02 501.21,2046.86 505.35,2049.71 509.48,2052.56 513.61,2055.41 517.74,2058.27 521.87,2061.13 525.99,2063.99 530.12,2066.86 534.24,2069.73 538.36,2072.6 542.47,2075.48 546.59,2078.36 550.7,2081.24 554.81,2084.12 558.92,2087.01 563.03,2089.91 567.13,2092.8 571.23,2095.7 575.33,2098.6 579.43,2101.51 583.52,2104.42 587.62,2107.33 591.71,2110.25 595.79,2113.17 599.88,2116.09 603.96,2119.02 608.04,2121.95 612.12,2124.89 616.2,2127.83 620.27,2130.77 624.34,2133.71 628.41,2136.66 632.47,2139.62 636.53,2142.57 640.59,2145.54 644.65,2148.5 648.7,2151.47 652.75,2154.45 656.79,2157.43 660.83,2160.41 664.87,2163.41 668.9,2166.4 672.93,2169.41 676.95,2172.42 680.96,2175.43 684.97,2178.46 688.98,2181.49 692.98,2184.52 696.97,2187.57 700.96,2190.62 704.94,2193.68 708.92,2196.75 712.89,2199.82 716.85,2202.91 720.8,2206 724.75,2209.11 728.68,2212.22 732.62,2215.34 736.54,2218.47 740.45,2221.61 744.36,2224.76 748.26,2227.93 752.15,2231.1 756.03,2234.28 759.9,2237.47 763.76,2240.67 767.62,2243.88 771.47,2247.1 775.31,2250.33 779.14,2253.56 782.97,2256.81 786.79,2260.07 790.6,2263.33 794.4,2266.61 798.19,2269.89 801.98,2273.19 805.75,2276.49 809.52,2279.8 813.28,2283.12 817.04,2286.45 820.79,2289.79 824.53,2293.13 828.26,2296.49 831.98,2299.85 835.7,2303.22 839.41,2306.6 843.11,2309.99 846.8,2313.39 850.49,2316.8 854.17,2320.21 857.84,2323.63 861.5,2327.06 865.16,2330.5 868.81,2333.94 872.45,2337.4 876.09,2340.86 879.71,2344.33 883.33,2347.81 886.95,2351.29 890.55,2354.78 894.15,2358.29 897.75,2361.79 901.33,2365.31 904.91,2368.83 908.48,2372.36 912.05,2375.9 915.6,2379.44 919.15,2382.99 922.7,2386.55 926.23,2390.12 929.76,2393.69 933.29,2397.27 936.8,2400.86 940.31,2404.45 943.82,2408.05 947.31,2411.66 950.8,2415.27 954.29,2418.89 957.76,2422.52 961.23,2426.15 964.7,2429.79 968.15,2433.44 971.61,2437.09 975.05,2440.75 978.49,2444.41 981.92,2448.08 985.34,2451.76 988.76,2455.44 992.18,2459.13 995.58,2462.83 998.98,2466.53 1002.38,2470.23 1005.77,2473.94 1009.15,2477.66 1012.52,2481.38 1015.89,2485.11 1019.26,2488.85 1022.61,2492.59 1025.97,2496.33 1029.31,2500.08 1032.65,2503.84 1035.99,2507.6 1039.31,2511.36 1042.64,2515.13 1045.95,2518.91 1049.26,2522.69 1052.57,2526.47 1055.87,2530.26 1059.16,2534.06 1062.45,2537.86 1065.73,2541.66 1069.01,2545.47 1072.28,2549.28 1075.55,2553.1 1078.81,2556.92 1082.06,2560.75 1085.31,2564.58 1088.55,2568.42 1091.79,2572.26 1095.03,2576.1 1098.25,2579.95 1101.48,2583.8 1104.69,2587.65 1107.9,2591.51 1111.11,2595.38 1114.31,2599.24 1117.51,2603.11 1120.7,2606.99 1123.89,2610.87 1127.07,2614.75 1130.24,2618.63 1133.42,2622.52 1136.58,2626.41 1139.74,2630.31 1142.9,2634.21 1146.05,2638.11 1149.2,2642.01 1152.34,2645.92 1155.48,2649.83 1158.61,2653.74 1161.74,2657.66 1164.86,2661.58 1167.98,2665.5"/>
</g>
<path class="frame" style="stroke-width:4" d="M307,1825 V2710"/>
<path class="frame" style="stroke-width:4" d="M1167,1825 V2710"/>
<path class="frame" style="stroke-width:5" d="M305,1827.5 H1169"/>
<path class="frame" style="stroke-width:4" d="M305,2708 H1169"/>
<text class="t10" text-anchor="end" transform="translate(270,2721.6) scale(1,1.03)">0.9</text>
<text class="t10" text-anchor="end" transform="translate(270,2611.54) scale(1,1.03)">1.0</text>
<text class="t10" text-anchor="end" transform="translate(270,2501.47) scale(1,1.03)">1.1</text>
<text class="t10" text-anchor="end" transform="translate(270,2391.41) scale(1,1.03)">1.2</text>
<text class="t10" text-anchor="end" transform="translate(270,2281.35) scale(1,1.03)">1.3</text>
<text class="t10" text-anchor="end" transform="translate(270,2171.29) scale(1,1.03)">1.4</text>
<text class="t10" text-anchor="end" transform="translate(270,2061.22) scale(1,1.03)">1.5</text>
<text class="t10" text-anchor="end" transform="translate(270,1951.16) scale(1,1.03)">1.6</text>
<text class="t10" text-anchor="end" transform="translate(270,1841.1) scale(1,1.03)">1.7</text>
<text class="t10" text-anchor="middle" transform="translate(306.3,2769.8) scale(1,1.03)">-50</text>
<text class="t10" text-anchor="middle" transform="translate(413.8,2769.8) scale(1,1.03)">-25</text>
<text class="t10" text-anchor="middle" transform="translate(521.3,2769.8) scale(1,1.03)">0</text>
<text class="t10" text-anchor="middle" transform="translate(628.8,2769.8) scale(1,1.03)">25</text>
<text class="t10" text-anchor="middle" transform="translate(736.3,2769.8) scale(1,1.03)">50</text>
<text class="t10" text-anchor="middle" transform="translate(843.8,2769.8) scale(1,1.03)">75</text>
<text class="t10" text-anchor="middle" transform="translate(951.3,2769.8) scale(1,1.03)">100</text>
<text class="t10" text-anchor="middle" transform="translate(1058.8,2769.8) scale(1,1.03)">125</text>
<text class="t10" text-anchor="middle" transform="translate(1166.3,2769.8) scale(1,1.03)">150</text>
<text class="t10" transform="translate(908.5,1990.7) scale(1,1.03)">ID=250uA</text>
<text class="t10" text-anchor="middle" transform="translate(736,2807.6) scale(1,1.03)">Tj(℃)</text>
<text class="t10" text-anchor="middle" transform="translate(196.5,2267.5) rotate(-90) scale(1,1.03)">VGSth(V)</text>
<text class="t12" text-anchor="middle" transform="translate(732.1,2893.3) scale(1,1.01)">Figure 7.VGSth vs. Tj</text>
</g>
<g class="chart" id="fig8">
<path class="grid" d="M1527,1831 V2709 M1667,1831 V2709 M1807,1831 V2709 M1948,1831 V2709 M2088,1831 V2709"/>
<path class="grid" style="stroke-width:4" d="M1387,2583 H2228.5 M1387,2458 H2228.5 M1387,2332 H2228.5 M1387,2207 H2228.5 M1387,2081 H2228.5 M1387,1956 H2228.5"/>
<clipPath id="clip-fig8"><rect x="1385" y="1829" width="847" height="882"/></clipPath>
<g clip-path="url(#clip-fig8)">
<path class="curve" d="M1385.77,1958.14 L1386.97,1962.92 1388.09,1967.73 1389.17,1972.58 1390.2,1977.45 1391.2,1982.34 1392.18,1987.25 1393.15,1992.17 1394.13,1997.1 1395.12,2002.03 1396.14,2006.96 1397.19,2011.89 1398.29,2016.8 1399.46,2021.7 1400.69,2026.57 1402.01,2031.43 1403.42,2036.25 1404.94,2041.04 1406.58,2045.79 1408.34,2050.5 1410.24,2055.14 1412.29,2059.72 1414.48,2064.21 1416.84,2068.6 1419.37,2072.88 1422.08,2077.03 1424.98,2081.05 1428.07,2084.92 1431.35,2088.63 1434.81,2092.19 1438.44,2095.6 1442.22,2098.85 1446.13,2101.95 1450.18,2104.9 1454.34,2107.71 1458.59,2110.37 1462.94,2112.88 1467.36,2115.26 1471.85,2117.51 1476.4,2119.64 1481.02,2121.66 1485.67,2123.58 1490.37,2125.4 1495.1,2127.13 1499.85,2128.79 1504.62,2130.38 1509.4,2131.91 1514.2,2133.37 1519.01,2134.77 1523.84,2136.11 1528.68,2137.39 1533.53,2138.62 1538.39,2139.8 1543.26,2140.93 1548.14,2142.02 1553.03,2143.06 1557.93,2144.07 1562.83,2145.03 1567.75,2145.96 1572.67,2146.86 1577.6,2147.73 1582.53,2148.57 1587.46,2149.38 1592.41,2150.18 1597.35,2150.95 1602.3,2151.71 1607.25,2152.45 1612.2,2153.18 1617.15,2153.89 1622.11,2154.6 1627.06,2155.3 1632.02,2155.99 1636.98,2156.67 1641.94,2157.34 1646.9,2158 1651.86,2158.65 1656.82,2159.29 1661.78,2159.93 1666.75,2160.55 1671.71,2161.16 1676.68,2161.77 1681.65,2162.37 1686.62,2162.95 1691.59,2163.53 1696.56,2164.11 1701.53,2164.67 1706.5,2165.22 1711.47,2165.77 1716.45,2166.31 1721.42,2166.84 1726.4,2167.36 1731.38,2167.88 1736.35,2168.39 1741.33,2168.89 1746.31,2169.38 1751.29,2169.86 1756.27,2170.34 1761.26,2170.82 1766.24,2171.28 1771.22,2171.74 1776.21,2172.19 1781.19,2172.63 1786.18,2173.07 1791.16,2173.5 1796.15,2173.93 1801.14,2174.35 1806.13,2174.76 1811.12,2175.17 1816.11,2175.57 1821.1,2175.96 1826.09,2176.35 1831.08,2176.74 1836.07,2177.12 1841.06,2177.49 1846.06,2177.86 1851.05,2178.22 1856.04,2178.58 1861.04,2178.93 1866.03,2179.28 1871.03,2179.62 1876.02,2179.96 1881.02,2180.3 1886.02,2180.63 1891.02,2180.95 1896.01,2181.28 1901.01,2181.59 1906.01,2181.91 1911.01,2182.22 1916.01,2182.52 1921.01,2182.83 1926.01,2183.13 1931.01,2183.42 1936.01,2183.71 1941.01,2184 1946.01,2184.29 1951.01,2184.57 1956.01,2184.85 1961.01,2185.13 1966.01,2185.4 1971.01,2185.67 1976.02,2185.94 1981.02,2186.21 1986.02,2186.48 1991.02,2186.74 1996.03,2187 2001.03,2187.26 2006.03,2187.51 2011.03,2187.77 2016.04,2188.02 2021.04,2188.27 2026.04,2188.53 2031.04,2188.77 2036.05,2189.02 2041.05,2189.27 2046.05,2189.52 2051.05,2189.76 2056.05,2190 2061.06,2190.25 2066.06,2190.49 2071.06,2190.73 2076.06,2190.98 2081.06,2191.22 2086.07,2191.46 2091.07,2191.7 2096.07,2191.94 2101.07,2192.19 2106.07,2192.43 2111.07,2192.67 2116.07,2192.91 2121.07,2193.16 2126.07,2193.4 2131.07,2193.65 2136.07,2193.89 2141.07,2194.14 2146.07,2194.39 2151.06,2194.64 2156.06,2194.89 2161.06,2195.14 2166.05,2195.4 2171.05,2195.65 2176.05,2195.91 2181.04,2196.17 2186.04,2196.43 2191.03,2196.69 2196.03,2196.96 2201.02,2197.23 2206.01,2197.5 2211,2197.77 2216,2198.05 2220.99,2198.33 2225.98,2198.61 2230.97,2198.89"/>
<path class="curve" d="M1385.77,2374.08 L1386.89,2378.96 1387.96,2383.85 1388.99,2388.75 1389.96,2393.65 1390.9,2398.56 1391.8,2403.47 1392.67,2408.39 1393.52,2413.31 1394.35,2418.24 1395.17,2423.18 1395.97,2428.12 1396.78,2433.06 1397.58,2438.01 1398.4,2442.97 1399.23,2447.93 1400.07,2452.89 1400.95,2457.85 1401.87,2462.8 1402.83,2467.74 1403.85,2472.68 1404.94,2477.6 1406.1,2482.5 1407.34,2487.37 1408.67,2492.23 1410.1,2497.05 1411.65,2501.85 1413.31,2506.61 1415.08,2511.32 1416.98,2516 1419,2520.61 1421.14,2525.17 1423.4,2529.67 1425.79,2534.09 1428.29,2538.43 1430.92,2542.68 1433.67,2546.85 1436.55,2550.92 1439.55,2554.88 1442.67,2558.73 1445.92,2562.47 1449.3,2566.08 1452.8,2569.57 1456.42,2572.92 1460.18,2576.12 1464.06,2579.18 1468.06,2582.08 1472.18,2584.84 1476.41,2587.46 1480.74,2589.95 1485.16,2592.32 1489.67,2594.57 1494.24,2596.7 1498.88,2598.74 1503.58,2600.68 1508.32,2602.53 1513.1,2604.3 1517.91,2605.99 1522.75,2607.62 1527.59,2609.19 1532.44,2610.7 1537.29,2612.16 1542.15,2613.57 1547.01,2614.93 1551.88,2616.24 1556.75,2617.5 1561.63,2618.72 1566.51,2619.89 1571.4,2621.02 1576.29,2622.11 1581.18,2623.15 1586.09,2624.16 1590.99,2625.13 1595.9,2626.07 1600.81,2626.96 1605.73,2627.83 1610.65,2628.66 1615.58,2629.46 1620.51,2630.24 1625.44,2630.98 1630.38,2631.7 1635.32,2632.39 1640.26,2633.06 1645.21,2633.71 1650.16,2634.34 1655.11,2634.94 1660.07,2635.53 1665.03,2636.1 1670,2636.66 1674.97,2637.2 1679.94,2637.73 1684.91,2638.24 1689.89,2638.74 1694.86,2639.22 1699.85,2639.69 1704.83,2640.15 1709.82,2640.6 1714.81,2641.03 1719.8,2641.45 1724.79,2641.86 1729.79,2642.26 1734.79,2642.65 1739.79,2643.03 1744.79,2643.39 1749.79,2643.75 1754.8,2644.09 1759.8,2644.43 1764.81,2644.76 1769.82,2645.08 1774.83,2645.38 1779.85,2645.69 1784.86,2645.98 1789.88,2646.26 1794.89,2646.54 1799.91,2646.81 1804.93,2647.08 1809.94,2647.33 1814.96,2647.58 1819.98,2647.83 1825,2648.07 1830.02,2648.3 1835.04,2648.53 1840.06,2648.76 1845.08,2648.98 1850.11,2649.19 1855.13,2649.4 1860.15,2649.61 1865.17,2649.82 1870.19,2650.02 1875.21,2650.22 1880.23,2650.42 1885.24,2650.62 1890.26,2650.81 1895.28,2651 1900.3,2651.2 1905.31,2651.39 1910.33,2651.58 1915.34,2651.77 1920.35,2651.96 1925.36,2652.14 1930.38,2652.33 1935.39,2652.52 1940.4,2652.7 1945.4,2652.89 1950.41,2653.07 1955.42,2653.25 1960.43,2653.43 1965.43,2653.61 1970.44,2653.78 1975.45,2653.96 1980.45,2654.13 1985.46,2654.31 1990.46,2654.48 1995.47,2654.65 2000.47,2654.81 2005.48,2654.98 2010.48,2655.14 2015.48,2655.3 2020.49,2655.46 2025.49,2655.62 2030.49,2655.78 2035.5,2655.93 2040.5,2656.08 2045.5,2656.23 2050.51,2656.38 2055.51,2656.52 2060.51,2656.67 2065.52,2656.81 2070.52,2656.94 2075.53,2657.08 2080.53,2657.21 2085.54,2657.34 2090.54,2657.47 2095.55,2657.59 2100.56,2657.71 2105.56,2657.83 2110.57,2657.95 2115.58,2658.06 2120.59,2658.17 2125.6,2658.27 2130.61,2658.38 2135.62,2658.48 2140.63,2658.57 2145.64,2658.67 2150.66,2658.76 2155.67,2658.84 2160.69,2658.93 2165.7,2659.01 2170.72,2659.08 2175.74,2659.15 2180.76,2659.22 2185.78,2659.29 2190.8,2659.35 2195.82,2659.41 2200.84,2659.46 2205.87,2659.51 2210.89,2659.56 2215.92,2659.6 2220.95,2659.63 2225.98,2659.67 2231.01,2659.7"/>
<path class="curve" d="M1386.12,2430.25 L1386.8,2434.98 1387.45,2439.77 1388.07,2444.61 1388.68,2449.5 1389.28,2454.42 1389.88,2459.38 1390.49,2464.37 1391.12,2469.38 1391.78,2474.41 1392.47,2479.44 1393.21,2484.48 1394,2489.52 1394.85,2494.55 1395.78,2499.57 1396.78,2504.57 1397.87,2509.54 1399.05,2514.49 1400.34,2519.39 1401.74,2524.25 1403.27,2529.07 1404.92,2533.83 1406.71,2538.53 1408.65,2543.16 1410.74,2547.72 1412.98,2552.19 1415.37,2556.58 1417.91,2560.87 1420.6,2565.06 1423.45,2569.13 1426.44,2573.09 1429.6,2576.91 1432.9,2580.6 1436.35,2584.16 1439.94,2587.57 1443.66,2590.84 1447.51,2593.98 1451.47,2596.97 1455.55,2599.81 1459.73,2602.51 1464,2605.06 1468.36,2607.47 1472.81,2609.74 1477.33,2611.88 1481.93,2613.9 1486.58,2615.8 1491.29,2617.59 1496.06,2619.28 1500.86,2620.88 1505.71,2622.38 1510.58,2623.81 1515.48,2625.16 1520.4,2626.44 1525.33,2627.67 1530.27,2628.84 1535.21,2629.96 1540.15,2631.04 1545.09,2632.07 1550.04,2633.05 1554.99,2633.99 1559.94,2634.88 1564.9,2635.74 1569.86,2636.56 1574.82,2637.34 1579.78,2638.09 1584.75,2638.8 1589.72,2639.48 1594.69,2640.12 1599.66,2640.74 1604.64,2641.34 1609.62,2641.9 1614.6,2642.44 1619.58,2642.96 1624.56,2643.46 1629.54,2643.94 1634.53,2644.4 1639.52,2644.84 1644.5,2645.27 1649.49,2645.69 1654.49,2646.09 1659.48,2646.48 1664.47,2646.87 1669.46,2647.25 1674.46,2647.62 1679.45,2647.99 1684.45,2648.35 1689.45,2648.7 1694.44,2649.05 1699.44,2649.39 1704.44,2649.73 1709.44,2650.06 1714.44,2650.39 1719.44,2650.71 1724.44,2651.02 1729.45,2651.33 1734.45,2651.64 1739.45,2651.93 1744.46,2652.23 1749.46,2652.52 1754.47,2652.8 1759.48,2653.08 1764.48,2653.35 1769.49,2653.62 1774.5,2653.89 1779.51,2654.15 1784.52,2654.4 1789.53,2654.65 1794.54,2654.9 1799.55,2655.14 1804.56,2655.37 1809.57,2655.61 1814.58,2655.83 1819.59,2656.06 1824.61,2656.28 1829.62,2656.49 1834.63,2656.7 1839.65,2656.91 1844.66,2657.11 1849.68,2657.31 1854.69,2657.51 1859.71,2657.7 1864.73,2657.89 1869.74,2658.08 1874.76,2658.26 1879.78,2658.44 1884.79,2658.61 1889.81,2658.78 1894.83,2658.95 1899.85,2659.12 1904.87,2659.28 1909.88,2659.44 1914.9,2659.59 1919.92,2659.75 1924.94,2659.9 1929.96,2660.04 1934.98,2660.19 1940,2660.33 1945.02,2660.47 1950.04,2660.61 1955.06,2660.74 1960.08,2660.87 1965.1,2661 1970.12,2661.13 1975.14,2661.26 1980.16,2661.38 1985.18,2661.5 1990.2,2661.62 1995.22,2661.74 2000.24,2661.85 2005.26,2661.96 2010.28,2662.07 2015.3,2662.18 2020.32,2662.29 2025.34,2662.4 2030.36,2662.5 2035.39,2662.61 2040.41,2662.71 2045.43,2662.81 2050.44,2662.91 2055.46,2663.01 2060.48,2663.11 2065.5,2663.2 2070.52,2663.3 2075.54,2663.39 2080.56,2663.49 2085.58,2663.58 2090.6,2663.67 2095.62,2663.76 2100.63,2663.86 2105.65,2663.95 2110.67,2664.04 2115.69,2664.13 2120.7,2664.21 2125.72,2664.3 2130.73,2664.39 2135.75,2664.48 2140.77,2664.57 2145.78,2664.66 2150.8,2664.75 2155.81,2664.83 2160.82,2664.92 2165.84,2665.01 2170.85,2665.1 2175.86,2665.19 2180.88,2665.28 2185.89,2665.37 2190.9,2665.46 2195.91,2665.56 2200.92,2665.65 2205.93,2665.74 2210.94,2665.84 2215.95,2665.93 2220.95,2666.03 2225.96,2666.13 2230.97,2666.22"/>
</g>
<path class="frame" style="stroke-width:4" d="M1387,1829 V2711"/>
<path class="frame" style="stroke-width:5" d="M2228.5,1829 V2711"/>
<path class="frame" style="stroke-width:4" d="M1385,1831 H2231"/>
<path class="frame" style="stroke-width:4" d="M1385,2709 H2231"/>
<text class="t10" text-anchor="end" transform="translate(1351.7,2721.8) scale(1,1.03)">0</text>
<text class="t10" text-anchor="end" transform="translate(1351.7,2596.37) scale(1,1.03)">500</text>
<text class="t10" text-anchor="end" transform="translate(1351.7,2470.94) scale(1,1.03)">1000</text>
<text class="t10" text-anchor="end" transform="translate(1351.7,2345.51) scale(1,1.03)">1500</text>
<text class="t10" text-anchor="end" transform="translate(1351.7,2220.09) scale(1,1.03)">2000</text>
<text class="t10" text-anchor="end" transform="translate(1351.7,2094.66) scale(1,1.03)">2500</text>
<text class="t10" text-anchor="end" transform="translate(1351.7,1969.23) scale(1,1.03)">3000</text>
<text class="t10" text-anchor="end" transform="translate(1351.7,1843.8) scale(1,1.03)">3500</text>
<text class="t10" text-anchor="middle" transform="translate(1387,2770.8) scale(1,1.03)">0</text>
<text class="t10" text-anchor="middle" transform="translate(1527.25,2770.8) scale(1,1.03)">5</text>
<text class="t10" text-anchor="middle" transform="translate(1667.5,2770.8) scale(1,1.03)">10</text>
<text class="t10" text-anchor="middle" transform="translate(1807.75,2770.8) scale(1,1.03)">15</text>
<text class="t10" text-anchor="middle" transform="translate(1948,2770.8) scale(1,1.03)">20</text>
<text class="t10" text-anchor="middle" transform="translate(2088.25,2770.8) scale(1,1.03)">25</text>
<text class="t10" text-anchor="middle" transform="translate(2228.5,2770.8) scale(1,1.03)">30</text>
<text class="t10" transform="translate(2000,1939.3) scale(1,1.03)">f=1.0MHz,</text>
<text class="t10" transform="translate(2000,2000.6) scale(1,1.03)">Ta=25℃</text>
<text class="t10" transform="translate(1487,2106.7) scale(1,1.03)">Ciss</text>
<text class="t10" transform="translate(1474.3,2565.6) scale(1,1.03)">Coss</text>
<text class="t10" transform="translate(1413.3,2683.8) scale(1,1.03)">Crss</text>
<text class="t10" text-anchor="middle" transform="translate(1817,2815) scale(1,1.03)">VDS(V)</text>
<text class="t10" text-anchor="middle" transform="translate(1239,2268.7) rotate(-90) scale(1,1.03)">Capacitance(pF)</text>
<text class="t12" text-anchor="middle" transform="translate(1818.8,2889) scale(1,1.01)">Figure 8.Capacitance</text>
</g>
</svg>
</main>
<footer>
<div class="rule" style="left:93px;top:3357px;width:2280px;height:5px"></div>
<span style="left:95.5px;top:3372.66px">Leshan Radio Company, LTD.</span>
<span style="left:1097.5px;top:3372.66px;word-spacing:0.3px">Rev.D   Oct.  2024</span>
<span style="left:2335px;top:3372.66px">4/6</span>
</footer>
</div>
</body>
</html>
